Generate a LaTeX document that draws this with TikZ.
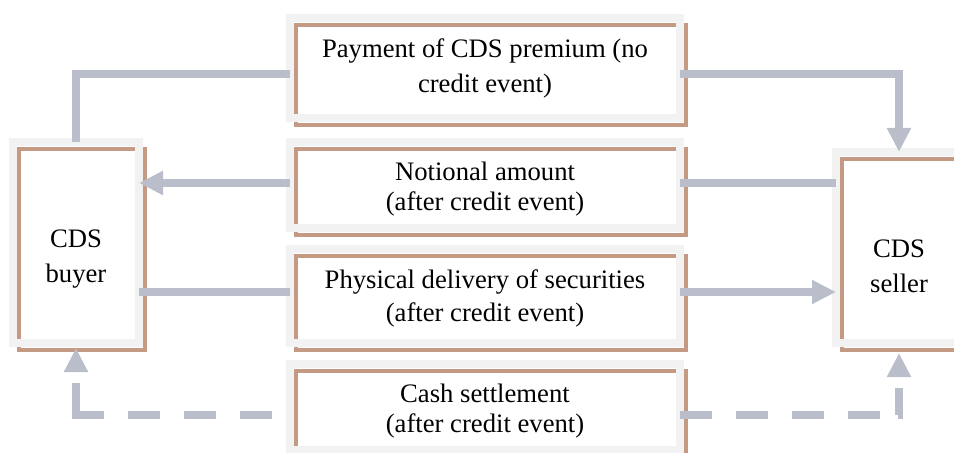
\documentclass[tikz,border=0pt]{standalone}
\usepackage{fontspec}
\setmainfont{Liberation Serif}
\usetikzlibrary{calc}
\usetikzlibrary{positioning}
\usetikzlibrary{arrows.meta}
\definecolor{framegray}{RGB}{242,242,242}
\definecolor{shadowbrown}{RGB}{196,154,132}
\definecolor{flowgray}{RGB}{186,190,203}
\tikzset{
  framed/.style={draw=framegray,line width=6pt,inner sep=0pt,outer sep=0pt,
    preaction={draw=shadowbrown,line width=3pt,
      transform canvas={shift={(4.5pt,-5.25pt)}}}},
  flowbox/.style={framed,minimum width=292.5pt},
  party/.style={framed,minimum width=94.5pt},
  boxtext/.style={inner sep=0pt,align=center,font=\fontsize{20}{#1}\selectfont},
  boxtext/.default=24.75pt,
  flow/.style={draw=flowgray,line width=6pt},
  flowtip/.style={-{Triangle[length=18pt,width=17pt]}}
}

\begin{document}
\begin{tikzpicture}[x=0.75pt,y=-0.75pt]
\useasboundingbox (0,0) rectangle (954,453);

\node[flowbox,minimum height=75pt] (prem) at (485,68) {};
\node[flowbox,minimum height=64.5pt] (notl) at (485,185) {};
\node[flowbox,minimum height=70.5pt] (phys) at (485,296) {};
\node[flowbox,minimum height=64.5pt] (cash) at (485,407) {};
\node[party,minimum height=150.75pt] (buyer) at (76,242.5) {};
\node[party,minimum height=143.25pt] (seller) at (899,247.5) {};

\node[boxtext=26pt,below=15.6pt of prem.north] (premtxt) {Payment of CDS premium (no\\credit event)};
\node[boxtext=22.5pt,below=15pt of notl.north] (notltxt) {Notional amount\\(after credit event)};
\node[boxtext,below=15pt of phys.north] (phystxt) {Physical delivery of securities\\(after credit event)};
\node[boxtext=22.5pt,below=15pt of cash.north] (cashtxt) {Cash settlement\\(after credit event)};
\node[boxtext=26pt,below=66pt of buyer.north] (buyertxt) {CDS\\buyer};
\node[boxtext=26pt,below=66pt of seller.north] (sellertxt) {CDS\\seller};

% premium
\draw[flow] ($(prem.west)+(0,6)$) -| (buyer.north);
\draw[flow,flowtip] ($(prem.east)+(0,6)$) -| (seller.north);
% notional
\draw[flow] ($(notl.east -| seller.west)+(0,-2)$) -- ($(notl.east)+(0,-2)$);
\draw[flow,flowtip] ($(notl.west)+(0,-2)$) -- ($(notl.west -| buyer.east)+(0,-2)$);
% securities
\draw[flow] ($(phys.west -| buyer.east)+(0,-4)$) -- ($(phys.west)+(0,-4)$);
\draw[flow,flowtip] ($(phys.east)+(0,-4)$) -- ($(phys.east -| seller.west)+(0,-4)$);
% cash
\draw[flow,flowtip,shorten >=3.75pt,
      dash pattern=on 0pt off 13.5pt on 24pt off 18pt on 24pt off 18pt on 24pt off 18pt on 45pt off 150pt]
      ($(cash.west)+(0,8)$) -| (buyer.south);
\draw[flow,flowtip,shorten >=7.5pt,
      dash pattern=on 24pt off 18pt on 24pt off 18pt on 24pt off 18pt on 24pt off 13.5pt on 21pt off 150pt]
      ($(cash.east)+(0,8)$) -| (seller.south);

\end{tikzpicture}
\end{document}
